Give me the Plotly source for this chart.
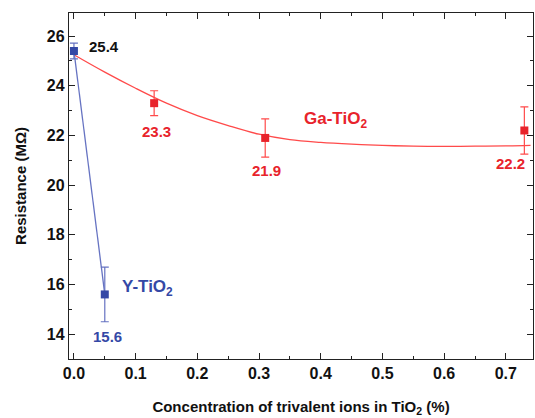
import plotly.graph_objects as go

# Measured points
y_conc = [0.0, 0.05]
y_res = [25.4, 15.6]
y_err = [0.32, 1.1]

ga_conc = [0.13, 0.31, 0.73]
ga_res = [23.3, 21.9, 22.2]
ga_err = [0.5, 0.77, 0.95]

# Fitted trend for the Ga-doped series
ga_fit_x = [0.0, 0.05, 0.10, 0.15, 0.20, 0.25, 0.30, 0.35, 0.40, 0.45,
            0.50, 0.55, 0.60, 0.65, 0.70, 0.74]
ga_fit_y = [25.25, 24.55, 23.9, 23.3, 22.8, 22.4, 22.05, 21.83, 21.72, 21.65,
            21.6, 21.57, 21.56, 21.57, 21.58, 21.6]

x_ticks = [0.0, 0.1, 0.2, 0.3, 0.4, 0.5, 0.6, 0.7]
y_ticks = [14, 16, 18, 20, 22, 24, 26]

RED = "#E8232B"
RED_LINE = "#FF4A4A"
BLUE = "#3448A6"
BLUE_LINE = "#6673C2"
FONT = "Liberation Sans, Arial, sans-serif"

fig = go.Figure()

fig.add_trace(go.Scatter(
    x=ga_fit_x, y=ga_fit_y, mode="lines",
    line=dict(color=RED_LINE, width=1.3, shape="spline"),
    hoverinfo="skip", showlegend=False))

fig.add_trace(go.Scatter(
    x=y_conc, y=y_res, mode="lines+markers",
    line=dict(color=BLUE_LINE, width=1.3),
    marker=dict(symbol="square", size=8, color=BLUE),
    error_y=dict(type="data", array=y_err, color=BLUE_LINE, thickness=1.2, width=4),
    showlegend=False))

fig.add_trace(go.Scatter(
    x=ga_conc, y=ga_res, mode="markers",
    marker=dict(symbol="square", size=8, color=RED),
    error_y=dict(type="data", array=ga_err, color=RED_LINE, thickness=1.2, width=4),
    showlegend=False))

lbl = dict(family=FONT, size=15)

# value labels
fig.add_annotation(x=y_conc[0], y=y_res[0], text=f"<b>{y_res[0]:.1f}</b>", showarrow=False,
                   xshift=30, yshift=5, font=dict(lbl, color="#111111"))
fig.add_annotation(x=y_conc[1], y=y_res[1], text=f"<b>{y_res[1]:.1f}</b>", showarrow=False,
                   xshift=3, yshift=-42, font=dict(lbl, color=BLUE))
for xv, yv, dx, dy in zip(ga_conc, ga_res, [2, 1, -14], [-28, -33, -33]):
    fig.add_annotation(x=xv, y=yv, text=f"<b>{yv:.1f}</b>", showarrow=False,
                       xshift=dx, yshift=dy, font=dict(lbl, color=RED))

# series names
fig.add_annotation(x=0.074, y=15.85, text="<b>Y-TiO<sub>2</sub></b>", showarrow=False,
                   xanchor="left", font=dict(family=FONT, size=17, color=BLUE))
fig.add_annotation(x=0.424, y=22.62, text="<b>Ga-TiO<sub>2</sub></b>", showarrow=False,
                   font=dict(family=FONT, size=17, color=RED))

axis_common = dict(
    showline=True, linecolor="#222222", linewidth=1.3, mirror="allticks",
    ticks="inside", ticklen=6, tickwidth=1.3, tickcolor="#222222",
    showgrid=False, zeroline=False,
    tickfont=dict(family=FONT, size=16, color="#111111"),
)

fig.update_xaxes(
    **axis_common, range=[-0.008, 0.744], tickvals=x_ticks,
    ticktext=[f"<b>{v:.1f}</b>" for v in x_ticks],
    minor=dict(ticks="inside", ticklen=3, tickwidth=1.1, dtick=0.05, tick0=0, tickcolor="#222222"),
    title=dict(text="<b>Concentration of trivalent ions in TiO<sub>2</sub> (%)</b>",
               font=dict(family=FONT, size=15, color="#111111"), standoff=20),
)
fig.update_yaxes(
    **axis_common, range=[13, 26.93], tickvals=y_ticks,
    ticktext=[f"<b>{v}</b>" for v in y_ticks],
    minor=dict(ticks="inside", ticklen=3, tickwidth=1.1, dtick=1, tick0=0, tickcolor="#222222"),
    title=dict(text="<b>Resistance (MΩ)</b>",
               font=dict(family=FONT, size=15, color="#111111"), standoff=16),
)

fig.update_layout(
    width=535, height=418,
    margin=dict(l=69, r=2, t=13, b=59),
    plot_bgcolor="white", paper_bgcolor="white",
)

fig.write_html("out.html")
